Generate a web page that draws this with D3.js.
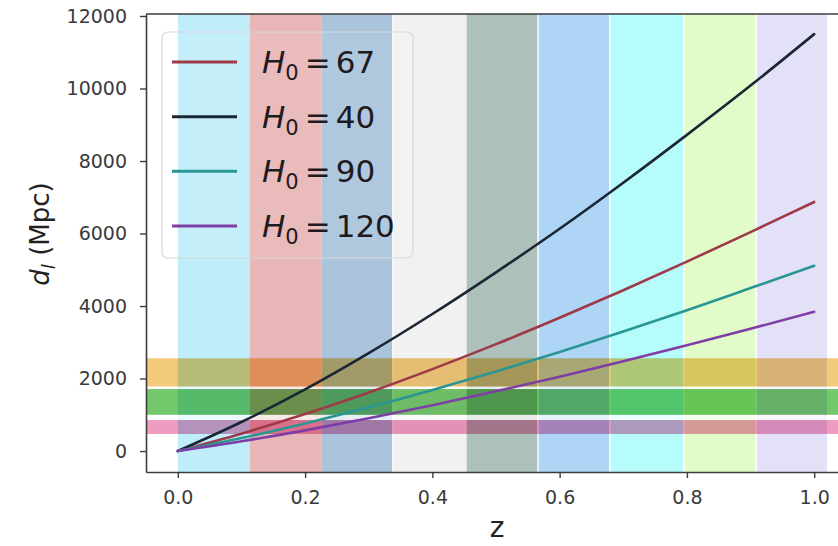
<!DOCTYPE html>
<html>
<head>
<meta charset="utf-8">
<script src="https://cdn.jsdelivr.net/npm/d3@7"></script>
<style>
  html, body { margin: 0; padding: 0; background: #fff; }
  svg { display: block; font-family: "DejaVu Sans", sans-serif; }
</style>
</head>
<body>
<svg id="chart" width="838" height="546"></svg>
<script>
// Redshift sample points
const zValues = [0, 0.1, 0.2, 0.3, 0.4, 0.5, 0.6, 0.7, 0.8, 0.9, 1.0];

// Luminosity distance (Mpc) for each Hubble constant
const dl67  = [0, 480, 1020, 1615, 2260, 2948, 3675, 4435, 5225, 6040, 6870];
const dl40  = [0, 800, 1700, 2700, 3780, 4930, 6130, 7400, 8720, 10080, 11500];
const dl90  = [0, 358, 760, 1205, 1685, 2195, 2735, 3300, 3885, 4495, 5110];
const dl120 = [0, 268, 570, 903, 1263, 1648, 2052, 2477, 2917, 3372, 3840];

const seriesNames = ["67", "40", "90", "120"];
const seriesValues = [dl67, dl40, dl90, dl120];
const seriesColors = ["#9e3a48", "#1a2634", "#2a9694", "#7e3ea6"];

// Vertical redshift bins (edges in z) and their fills
const zBinEdges = [0, 0.113, 0.226, 0.338, 0.454, 0.566, 0.679, 0.795, 0.909, 1.02];
const zBinColors = ["#bfeefa", "#e8b6b6", "#aac4dc", "#f1f1f1", "#adc0b9",
                    "#afd5f6", "#b6fcfa", "#e1fcc9", "#e3e1f8"];
const zBinGapAfter = [false, false, true, false, true, true, true, true, false];

// Horizontal distance bands (Mpc)
const dBands = [
  { lo: 1780, hi: 2560, color: "#f3c97a" },
  { lo: 1000, hi: 1710, color: "#74c86c" },
  { lo: 470,  hi: 855,  color: "#f09cc0" }
];

const yTicks = [0, 2000, 4000, 6000, 8000, 10000, 12000];
const xTicks = [0, 0.2, 0.4, 0.6, 0.8, 1.0];

const svg = d3.select("#chart");
const plotLeft = 146, plotTop = 14, plotBottom = 472, plotRight = 846;

const x = d3.scaleLinear().domain([-0.05, 1.05]).range([plotLeft, plotRight]);
const y = d3.scaleLinear().domain([-578, 12055]).range([plotBottom, plotTop]);

svg.append("defs").append("clipPath").attr("id", "plotClip")
  .append("rect")
  .attr("x", plotLeft).attr("y", plotTop)
  .attr("width", plotRight - plotLeft).attr("height", plotBottom - plotTop);

const plot = svg.append("g").attr("clip-path", "url(#plotClip)");

// vertical bins
const bins = zBinColors.map((c, i) => ({ a: zBinEdges[i], b: zBinEdges[i + 1], c, gap: zBinGapAfter[i] }));
plot.selectAll("rect.zbin").data(bins).join("rect")
  .attr("class", "zbin")
  .attr("x", d => x(d.a))
  .attr("y", plotTop)
  .attr("width", d => x(d.b) - x(d.a))
  .attr("height", plotBottom - plotTop)
  .attr("fill", d => d.c);

plot.selectAll("line.zgap").data(bins.filter(d => d.gap)).join("line")
  .attr("class", "zgap")
  .attr("x1", d => x(d.b)).attr("x2", d => x(d.b))
  .attr("y1", plotTop).attr("y2", plotBottom)
  .attr("stroke", "#ffffff").attr("stroke-width", 1.6).attr("stroke-opacity", 0.9);

// pale strips between neighbouring distance bands
const bandGaps = dBands.slice(1).map((b, i) => ({ top: dBands[i].lo, bottom: b.hi }));
plot.selectAll("rect.dgap").data(bandGaps).join("rect")
  .attr("class", "dgap")
  .attr("x", plotLeft)
  .attr("y", d => y(d.top))
  .attr("width", plotRight - plotLeft)
  .attr("height", d => y(d.bottom) - y(d.top))
  .attr("fill", "#ffffff").attr("fill-opacity", 0.7);

// horizontal bands, blended over the bins
plot.selectAll("rect.dband").data(dBands).join("rect")
  .attr("class", "dband")
  .attr("x", plotLeft)
  .attr("y", d => y(d.hi))
  .attr("width", plotRight - plotLeft)
  .attr("height", d => y(d.lo) - y(d.hi))
  .attr("fill", d => d.color)
  .style("mix-blend-mode", "multiply");

// distance curves
const line = d3.line()
  .x((d, i) => x(zValues[i]))
  .y(d => y(d))
  .curve(d3.curveMonotoneX);

plot.selectAll("path.curve").data(seriesValues).join("path")
  .attr("class", "curve")
  .attr("d", d => line(d))
  .attr("fill", "none")
  .attr("stroke", (d, i) => seriesColors[i])
  .attr("stroke-width", 2.6)
  .attr("stroke-linecap", "round");

// axes
const axisColor = "#3c3c3c";
const yAxis = svg.append("g").attr("transform", `translate(${plotLeft},0)`)
  .call(d3.axisLeft(y).tickValues(yTicks).tickSize(6).tickPadding(13).tickSizeOuter(0).tickFormat(d3.format("d")));
const xAxis = svg.append("g").attr("transform", `translate(0,${plotBottom})`)
  .call(d3.axisBottom(x).tickValues(xTicks).tickSize(6).tickPadding(13).tickSizeOuter(0).tickFormat(d3.format(".1f")));

[yAxis, xAxis].forEach(g => {
  g.select(".domain").attr("stroke", axisColor).attr("stroke-width", 1.6);
  g.selectAll(".tick line").attr("stroke", axisColor).attr("stroke-width", 1.4);
  g.selectAll(".tick text").attr("fill", "#3a3a3a").style("font-size", "19px")
    .style("font-family", "DejaVu Sans");
});

// top spine
svg.append("line")
  .attr("x1", plotLeft).attr("x2", 838)
  .attr("y1", plotTop).attr("y2", plotTop)
  .attr("stroke", axisColor).attr("stroke-width", 1.6);

// axis labels
svg.append("text")
  .attr("x", 497).attr("y", 537)
  .attr("text-anchor", "middle")
  .attr("fill", "#222")
  .style("font-size", "28px")
  .text("z");

const ylab = svg.append("text")
  .attr("transform", "translate(49,234) rotate(-90)")
  .attr("text-anchor", "middle")
  .attr("fill", "#222")
  .style("font-size", "26px");
ylab.append("tspan").style("font-style", "italic").text("d");
ylab.append("tspan").style("font-style", "italic").style("font-size", "18px").attr("dy", 6).text("l");
ylab.append("tspan").attr("dy", -6).text(" (Mpc)");

// legend
const legend = svg.append("g");
legend.append("rect")
  .attr("x", 162).attr("y", 32).attr("width", 251).attr("height", 226)
  .attr("rx", 6)
  .attr("fill", "#ffffff").attr("fill-opacity", 0.08)
  .attr("stroke", "#d8d8d8").attr("stroke-width", 1.2);

const rowY = d3.scalePoint().domain(seriesNames).range([62, 226]);
const rows = legend.selectAll("g.row").data(seriesNames).join("g")
  .attr("class", "row")
  .attr("transform", d => `translate(0,${rowY(d)})`);

rows.append("line")
  .attr("x1", 172).attr("x2", 237).attr("y1", 0).attr("y2", 0)
  .attr("stroke", (d, i) => seriesColors[i])
  .attr("stroke-width", 3);

const lt = rows.append("text")
  .attr("x", 262).attr("y", 11)
  .attr("fill", "#1e1a1e")
  .style("font-size", "31px");
lt.append("tspan").style("font-style", "italic").text("H");
lt.append("tspan").style("font-size", "21px").attr("dy", 7).text("0");
lt.append("tspan").attr("dy", -7).attr("dx", 6).text("=");
lt.append("tspan").attr("dx", 5).text(d => d);
</script>
</body>
</html>
